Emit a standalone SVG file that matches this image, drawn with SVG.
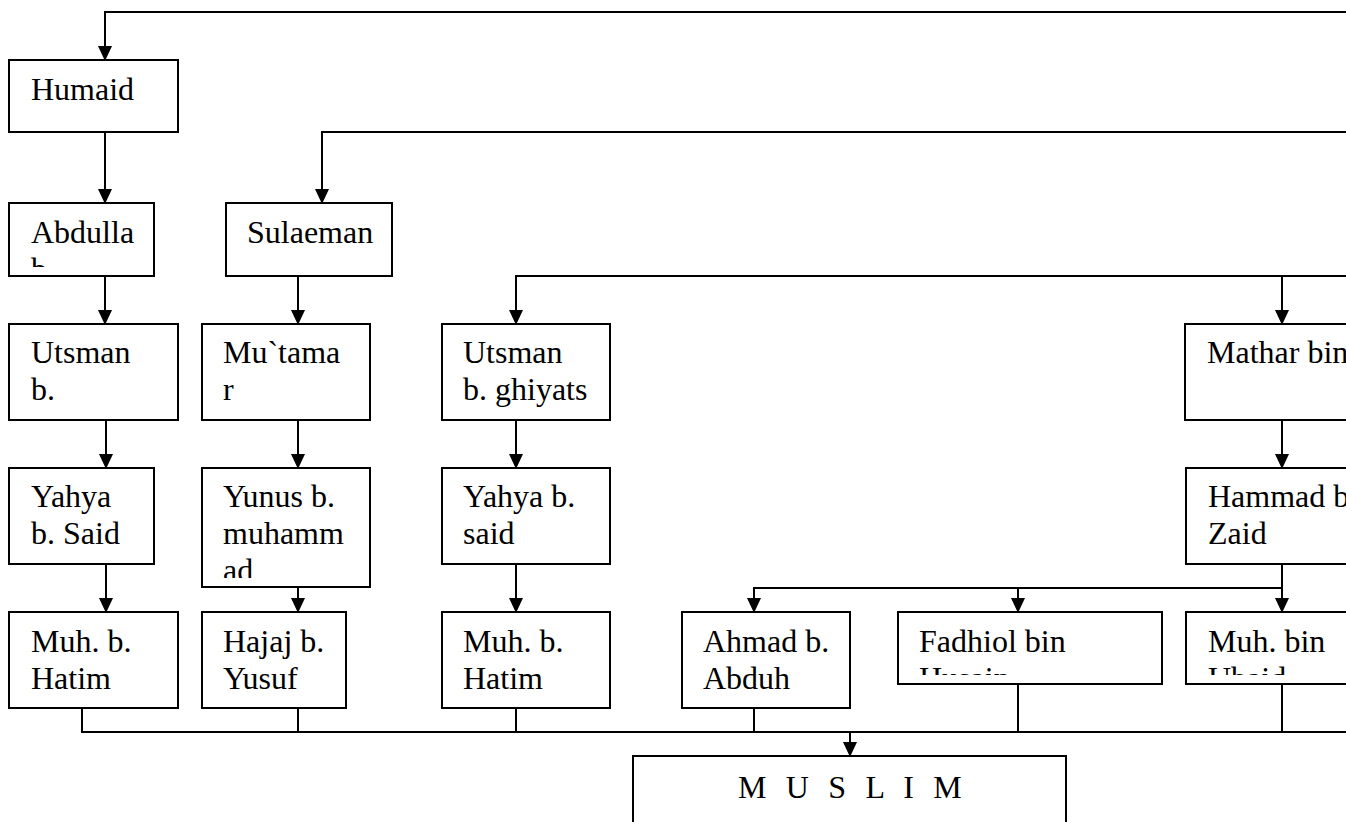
<svg xmlns="http://www.w3.org/2000/svg" width="1346" height="822" viewBox="0 0 1346 822">
<style>
.box{fill:#fff;stroke:#000;stroke-width:2}
.t{font-family:"Liberation Serif","Times New Roman",serif;font-size:32px;fill:#000}
.c{fill:none;stroke:#000;stroke-width:2}
.a{marker-end:url(#ah)}
</style>
<defs>
<marker id="ah" viewBox="0 0 15 14" refX="14" refY="7" markerWidth="15" markerHeight="14" markerUnits="userSpaceOnUse" orient="auto"><path d="M0,0L15,7L0,14z" fill="#000"/></marker>
<clipPath id="clipAbdulla"><rect x="9" y="203" width="145" height="64"/></clipPath>
<clipPath id="clipYunus"><rect x="202" y="468" width="168" height="110"/></clipPath>
<clipPath id="clipFadhiol"><rect x="898" y="612" width="264" height="63"/></clipPath>
<clipPath id="clipMuhbin"><rect x="1186" y="612" width="200" height="63"/></clipPath>
</defs>
<rect width="1346" height="822" fill="#fff"/>
<g id="connectors">
<path class="c a" d="M1346,12H105V60"/>
<path class="c a" d="M105,132V203"/>
<path class="c a" d="M1346,132H322V203"/>
<path class="c a" d="M105,276V324"/>
<path class="c a" d="M298,276V324"/>
<path class="c a" d="M1346,276H516V324"/>
<path class="c a" d="M1282,276V324"/>
<path class="c a" d="M106,420V468"/>
<path class="c a" d="M298,420V468"/>
<path class="c a" d="M516,420V468"/>
<path class="c a" d="M1282,420V468"/>
<path class="c a" d="M106,564V612"/>
<path class="c a" d="M298,587V612"/>
<path class="c a" d="M516,564V612"/>
<path class="c a" d="M1282,564V612"/>
<path class="c a" d="M1282,588H754V612"/>
<path class="c a" d="M1018,588V612"/>
<path class="c" d="M82,708V732H1346"/>
<path class="c" d="M298,708V732"/>
<path class="c" d="M516,708V732"/>
<path class="c" d="M754,708V732"/>
<path class="c" d="M1018,684V732"/>
<path class="c" d="M1282,684V732"/>
<path class="c a" d="M850,732V756"/>
</g>
<g id="humaid"><rect class="box" x="9" y="60" width="169" height="72"/><text class="t" x="31" y="100">Humaid</text></g>
<g id="abdulla"><rect class="box" x="9" y="203" width="145" height="73"/><g clip-path="url(#clipAbdulla)"><text class="t" x="31" y="243">Abdulla<tspan x="31" dy="37">b.</tspan></text></g></g>
<g id="sulaeman"><rect class="box" x="226" y="203" width="166" height="73"/><text class="t" x="247" y="243">Sulaeman</text></g>
<g id="utsman1"><rect class="box" x="9" y="324" width="169" height="96"/><text class="t" x="31" y="363">Utsman<tspan x="31" dy="37">b.</tspan></text></g>
<g id="mutamar"><rect class="box" x="202" y="324" width="168" height="96"/><text class="t" x="223" y="363">Mu`tama<tspan x="223" dy="37">r</tspan></text></g>
<g id="utsman2"><rect class="box" x="442" y="324" width="168" height="96"/><text class="t" x="463" y="363">Utsman<tspan x="463" dy="37">b. ghiyats</tspan></text></g>
<g id="mathar"><rect class="box" x="1185" y="324" width="200" height="96"/><text class="t" x="1207" y="363">Mathar bin</text></g>
<g id="yahya1"><rect class="box" x="9" y="468" width="145" height="96"/><text class="t" x="31" y="507">Yahya<tspan x="31" dy="37">b. Said</tspan></text></g>
<g id="yunus"><rect class="box" x="202" y="468" width="168" height="119"/><g clip-path="url(#clipYunus)"><text class="t" x="223" y="507">Yunus b.<tspan x="223" dy="37">muhamm</tspan><tspan x="223" dy="37">ad</tspan></text></g></g>
<g id="yahya2"><rect class="box" x="442" y="468" width="168" height="96"/><text class="t" x="463" y="507">Yahya b.<tspan x="463" dy="37">said</tspan></text></g>
<g id="hammad"><rect class="box" x="1186" y="468" width="200" height="96"/><text class="t" x="1208" y="507">Hammad b<tspan x="1208" dy="37">Zaid</tspan></text></g>
<g id="muh1"><rect class="box" x="9" y="612" width="169" height="96"/><text class="t" x="31" y="652">Muh. b.<tspan x="31" dy="37">Hatim</tspan></text></g>
<g id="hajaj"><rect class="box" x="202" y="612" width="144" height="96"/><text class="t" x="223" y="652">Hajaj b.<tspan x="223" dy="37">Yusuf</tspan></text></g>
<g id="muh2"><rect class="box" x="442" y="612" width="168" height="96"/><text class="t" x="463" y="652">Muh. b.<tspan x="463" dy="37">Hatim</tspan></text></g>
<g id="ahmad"><rect class="box" x="682" y="612" width="168" height="96"/><text class="t" x="703" y="652">Ahmad b.<tspan x="703" dy="37">Abduh</tspan></text></g>
<g id="fadhiol"><rect class="box" x="898" y="612" width="264" height="72"/><g clip-path="url(#clipFadhiol)"><text class="t" x="919" y="652">Fadhiol bin<tspan x="919" dy="37">Husain</tspan></text></g></g>
<g id="muhbin"><rect class="box" x="1186" y="612" width="200" height="72"/><g clip-path="url(#clipMuhbin)"><text class="t" x="1208" y="652">Muh. bin<tspan x="1208" dy="37">Ubaid</tspan></text></g></g>
<g id="muslim"><rect class="box" x="633" y="756" width="433" height="100"/><text class="t" x="738" y="798" style="letter-spacing:5.7px">M U S L I M</text></g>
</svg>
